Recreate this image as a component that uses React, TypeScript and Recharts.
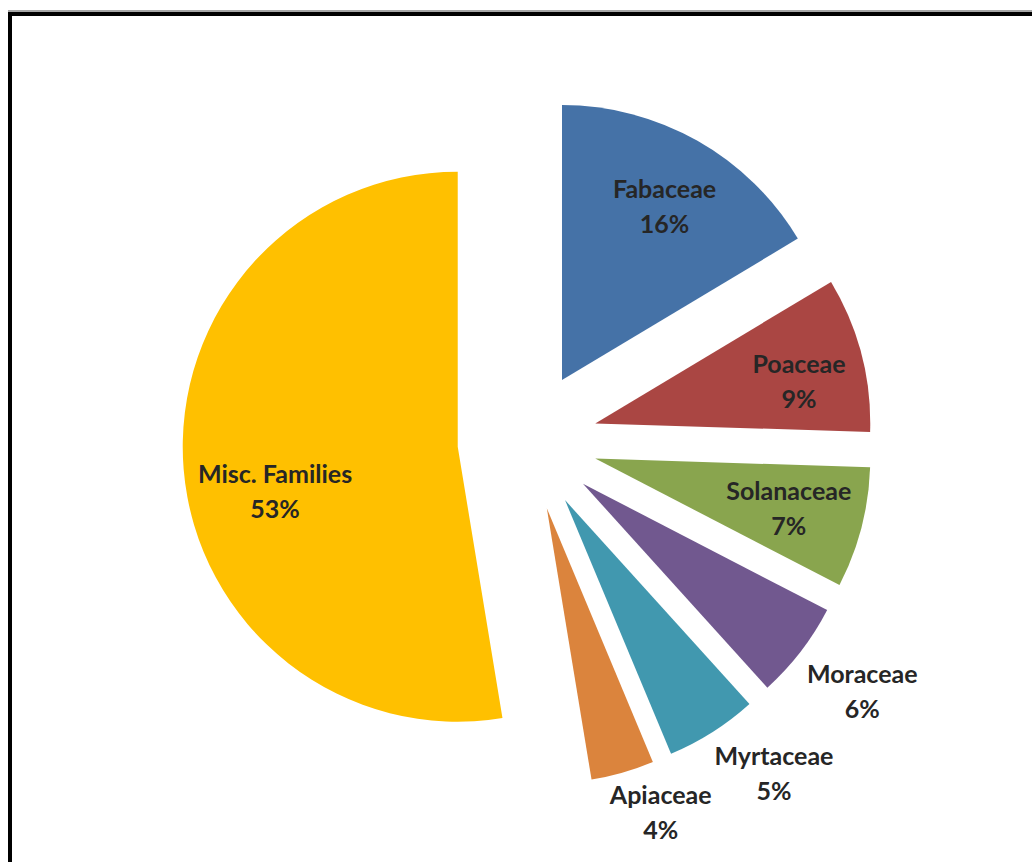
import React from "react";
import { PieChart, Pie, Sector } from "recharts";

const FAMILIES = ["Fabaceae", "Poaceae", "Solanaceae", "Moraceae", "Myrtaceae", "Apiaceae", "Misc. Families"];
const SHARES = [16.4, 9.1, 7.1, 5.7, 5.4, 3.7, 52.6];
const COLORS = ["#4572A7", "#AA4643", "#89A54E", "#71588F", "#4198AF", "#DB843D", "#FFC000"];

const data = FAMILIES.map((name, i) => ({ name, value: SHARES[i] }));

const RAD = Math.PI / 180;
const EXPLODE = 70;
// label distance from each slice tip, and a small turn (deg, clockwise +)
const LABEL_R = [202, 208, 200, 348, 344, 325, 188];
const LABEL_TURN = [1, 3, 0, -1, -5, -4.5, -9];

const FONT = "Lato, 'Open Sans', sans-serif";

// every slice is pushed out along its mid angle, Excel "exploded pie" style
function renderSlice(props: any) {
  const { cx, cy, outerRadius, startAngle, endAngle, midAngle, percent, index } = props;
  const name = props.name ?? props.payload?.name;
  const tipX = cx + EXPLODE * Math.cos(-midAngle * RAD);
  const tipY = cy + EXPLODE * Math.sin(-midAngle * RAD);
  const a = midAngle - LABEL_TURN[index];
  const lx = tipX + LABEL_R[index] * Math.cos(-a * RAD);
  const ly = tipY + LABEL_R[index] * Math.sin(-a * RAD);
  return (
    <g key={`slice-${index}`}>
      <Sector
        cx={tipX} cy={tipY} innerRadius={0} outerRadius={outerRadius}
        startAngle={startAngle} endAngle={endAngle}
        fill={COLORS[index]} stroke="none"
      />
      <text textAnchor="middle" fontFamily={FONT} fontWeight={700} fontSize={25} fill="#262626">
        <tspan x={lx} y={ly - 8.5}>{name}</tspan>
        <tspan x={lx} y={ly + 26.5}>{`${Math.round(percent * 100)}%`}</tspan>
      </text>
    </g>
  );
}

export default function App() {
  return (
    <div style={{ position: "fixed", left: 0, top: 0, width: 1032, height: 862, background: "#fff", overflow: "hidden" }}>
      <div style={{ position: "absolute", left: 8, top: 10, width: 1030, height: 2, background: "#a6a6a6" }} />
      <div
        style={{
          position: "absolute", left: 8, top: 12, width: 1100, height: 1000,
          borderLeft: "4px solid #000", borderTop: "4px solid #000",
        }}
      />
      <div style={{ position: "absolute", left: 0, top: 0 }}>
        <PieChart width={1032} height={862} margin={{ top: 0, right: 0, bottom: 0, left: 0 }}>
          <Pie
            data={data}
            dataKey="value"
            nameKey="name"
            cx={527.5}
            cy={441}
            innerRadius={0}
            outerRadius={275}
            startAngle={90}
            endAngle={-270}
            fill="transparent"
            stroke="none"
            labelLine={false}
            label={renderSlice}
            isAnimationActive={false}
          />
        </PieChart>
      </div>
    </div>
  );
}
